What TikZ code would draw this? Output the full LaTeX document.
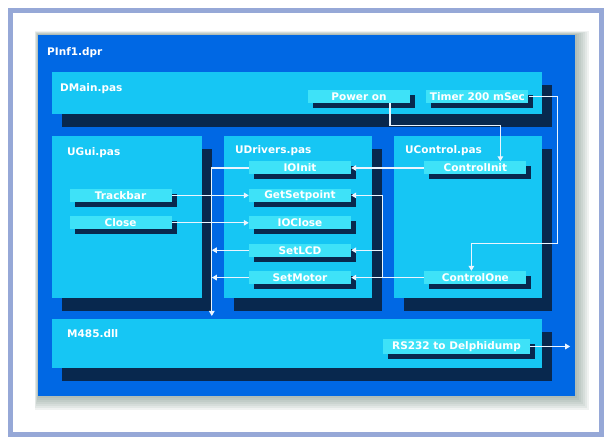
\documentclass[tikz,border=0pt]{standalone}
\usepackage{fontspec}
\setmainfont{DejaVu Sans}
\usetikzlibrary{arrows.meta, positioning, shadows}

\definecolor{framelav}{RGB}{150,168,215}
\definecolor{glowgray}{RGB}{110,135,125}
\definecolor{projblue}{RGB}{0,104,228}
\definecolor{unitcyan}{RGB}{22,198,244}
\definecolor{routinecyan}{RGB}{62,226,248}
\definecolor{shadownavy}{RGB}{8,40,78}
\definecolor{linewhite}{RGB}{235,245,255}

\begin{document}
\begin{tikzpicture}[
    x=1pt, y=1pt,
    every node/.style={font=\fontsize{10.5}{12}\selectfont\bfseries, text=white, inner sep=0pt},
    project/.style={rectangle, fill=projblue, anchor=north west},
    unit/.style={rectangle, fill=unitcyan, anchor=north west, general shadow={fill=shadownavy, shadow xshift=10pt, shadow yshift=-13pt}},
    routine/.style={rectangle, fill=routinecyan, minimum width=102pt, minimum height=13pt, general shadow={fill=shadownavy, shadow xshift=5pt, shadow yshift=-5pt}},
    title/.style={anchor=north west},
    arrow/.style={-{Triangle[length=5pt, width=5.5pt]}, line width=1.2pt, draw=linewhite}
]
    \useasboundingbox (0,0) rectangle (606,439);

    % Frame and glow
    \draw[framelav, line width=5pt, fill=white] (10.5,4.5) rectangle (601,428.5);
    \foreach \g in {2,4,...,14}
        \fill[glowgray, opacity=0.1] (38-\g/4,43-\g) rectangle (575+\g,404+\g/4);

    % Project
    \node[project, minimum width=537pt, minimum height=361pt] (pinf) at (38,404) {};
    \node[title, below right=12pt and 9pt of pinf.north west] (pinftitle) {PInf1.dpr};

    % Units
    \node[unit, minimum width=490pt, minimum height=42pt] (dmain) at (52,367) {};
    \node[unit, minimum width=150pt, minimum height=162pt] (ugui) at (52,303) {};
    \node[unit, minimum width=148pt, minimum height=162pt] (udrivers) at (224,303) {};
    \node[unit, minimum width=148pt, minimum height=162pt] (ucontrol) at (394,303) {};
    \node[unit, minimum width=490pt, minimum height=49pt] (m485) at (52,120) {};

    \node[title, below right=11pt and 8pt of dmain.north west] (dmaintitle) {DMain.pas};
    \node[title, below right=11pt and 15pt of ugui.north west] (uguititle) {UGui.pas};
    \node[title, below right=9pt and 11pt of udrivers.north west] (udriverstitle) {UDrivers.pas};
    \node[title, below right=9pt and 11pt of ucontrol.north west] (ucontroltitle) {UControl.pas};
    \node[title, below right=10pt and 15pt of m485.north west] (m485title) {M485.dll};

    % Routines
    \node[routine] (poweron) at (359,342.5) {Power on};
    \node[routine, right=16pt of poweron] (timer) {Timer 200 mSec};

    \node[routine] (ioinit) at (300,271) {IOInit};
    \node[routine, below=14pt of ioinit] (getsp) {GetSetpoint};
    \node[routine, below=14pt of getsp] (ioclose) {IOClose};
    \node[routine, below=14pt of ioclose] (setlcd) {SetLCD};
    \node[routine, below=14pt of setlcd] (setmotor) {SetMotor};

    \node[routine, left=77pt of getsp] (trackbar) {Trackbar};
    \node[routine, left=77pt of ioclose] (close) {Close};

    \node[routine, right=73pt of ioinit] (ctrlinit) {ControlInit};
    \node[routine, right=73pt of setmotor] (ctrlone) {ControlOne};

    \node[routine, minimum width=147pt, minimum height=15pt] (rs232) at (456.5,92.5) {RS232 to Delphidump};

    % DMain to UControl
    \draw[arrow] ([xshift=31pt]poweron.south) -- ++(0,-22) -| ([xshift=25pt]ctrlinit.north);
    \coordinate (tbend) at ([xshift=-4pt, yshift=27.5pt]ctrlone.north);
    \draw[arrow] (timer.east) -- ++(29,0) |- (tbend) -- (ctrlone.north -| tbend);

    % UControl to UDrivers
    \draw[arrow] (ctrlinit.west) -- (ioinit.east);
    \draw[arrow] (ctrlone.west) -- (setmotor.east);
    \coordinate (ctrlbus) at ([xshift=31pt]setmotor.east);
    \draw[arrow] (ctrlbus) |- (getsp.east);
    \draw[arrow] (ctrlbus |- setlcd.east) -- (setlcd.east);

    % UGui to UDrivers
    \draw[arrow] (trackbar.east) -- (getsp.west);
    \draw[arrow] (close.east) -- (ioclose.west);

    % UDrivers to M485
    \coordinate (drvbus) at ([xshift=-37pt]ioinit.west);
    \draw[arrow, shorten >=3pt] (ioinit.west) -| (drvbus |- m485.north);
    \draw[arrow] (setlcd.west) -- (drvbus |- setlcd.west);
    \draw[arrow] (setmotor.west) -- (drvbus |- setmotor.west);

    % Dump out
    \coordinate (dumpout) at ([xshift=40pt]rs232.east);
    \draw[arrow] (rs232.east) -- (dumpout);

\end{tikzpicture}
\end{document}
